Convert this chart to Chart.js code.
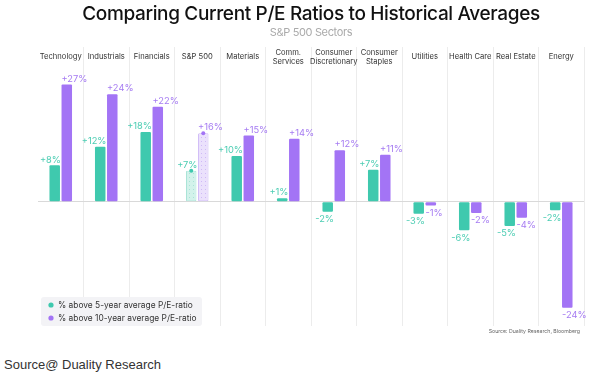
<!DOCTYPE html>
<html>
<head>
<meta charset="utf-8">
<script src="https://cdn.jsdelivr.net/npm/chart.js@4.4.1/dist/chart.umd.min.js"></script>
<style>
  html, body { margin: 0; padding: 0; background: #fff; }
  #wrap { position: relative; width: 594px; height: 345px; }
  #src { font-family: "Liberation Sans", Arial, sans-serif; font-size: 13px; color: #333; margin: 12px 0 0 4px; }
</style>
</head>
<body>
<div id="wrap"><canvas id="c" width="594" height="345"></canvas></div>
<div id="src">Source@ Duality Research</div>
<script>
const categories = ["Technology", "Industrials", "Financials", "S&P 500", "Materials", ["Comm.", "Services"], ["Consumer", "Discretionary"], ["Consumer", "Staples"], "Utilities", "Health Care", "Real Estate", "Energy"];
// bar heights (percent)
const fiveYear = [8.2, 12.4, 15.7, 7.0, 10.3, 0.8, -2.2, 7.2, -2.7, -6.4, -5.4, -1.9];
const tenYear = [26.4, 24.2, 21.4, 15.4, 14.9, 14.2, 11.6, 10.6, -0.8, -2.5, -3.6, -23.8];
// printed labels
const fiveYearLabels = ["+8%", "+12%", "+18%", "+7%", "+10%", "+1%", "-2%", "+7%", "-3%", "-6%", "-5%", "-2%"];
const tenYearLabels = ["+27%", "+24%", "+22%", "+16%", "+15%", "+14%", "+12%", "+11%", "-1%", "-2%", "-4%", "-24%"];
const seriesNames = ["% above 5-year average P/E-ratio", "% above 10-year average P/E-ratio"];
const highlightIndex = 3;

const GREEN = "#3fc9ae";
const PURPLE = "#a374f5";
const GREEN_LBL = "#4ccdb3";
const PURPLE_LBL = "#a67cf2";
const FONT = "Inter, 'Noto Sans', sans-serif";

function makePattern(bg, dot) {
  const p = document.createElement("canvas");
  p.width = 4; p.height = 4;
  const g = p.getContext("2d");
  g.fillStyle = bg; g.fillRect(0, 0, 4, 4);
  g.fillStyle = dot; g.fillRect(1, 1, 1, 1);
  return document.getElementById("c").getContext("2d").createPattern(p, "repeat");
}
const greenPat = makePattern("#d3f2eb", "#a9e4d7");
const purplePat = makePattern("#ebe1fc", "#cfbaf7");

function colorsFor(main, pat) {
  return categories.map((_, i) => i === highlightIndex ? pat : main);
}
function bordersFor(main, light) {
  return categories.map((_, i) => i === highlightIndex ? light : main);
}

const spacing = {
  id: "spacing",
  beforeDraw(chart) { chart.ctx.letterSpacing = "-0.35px"; },
  beforeDatasetsDraw(chart) { chart.ctx.letterSpacing = "0px"; }
};

const overlay = {
  id: "overlay",
  afterDatasetsDraw(chart) {
    const ctx = chart.ctx;
    const x = chart.scales.x;
    ctx.save();
    ctx.letterSpacing = "0px";
    // category labels
    ctx.fillStyle = "#333";
    ctx.font = "7.6px " + FONT;
    ctx.textAlign = "center";
    ctx.textBaseline = "middle";
    categories.forEach((c, i) => {
      const cx = x.getPixelForValue(i);
      const lines = Array.isArray(c) ? c : [c];
      const lh = 9;
      const y0 = 57 - (lines.length - 1) * lh / 2;
      lines.forEach((l, j) => ctx.fillText(l, cx, y0 + j * lh));
    });
    // data labels
    ctx.font = "9.3px " + FONT;
    const labelSets = [fiveYearLabels, tenYearLabels];
    const labelCols = [GREEN_LBL, PURPLE_LBL];
    chart.data.datasets.forEach((ds, di) => {
      const meta = chart.getDatasetMeta(di);
      meta.data.forEach((bar, i) => {
        const v = ds.data[i];
        ctx.fillStyle = labelCols[di];
        const half = bar.width / 2;
        ctx.textAlign = di === 0 ? "right" : "left";
        const lx = di === 0 ? bar.x + half + 1 : bar.x - half;
        if (v >= 0) {
          ctx.textBaseline = "bottom";
          ctx.fillText(labelSets[di][i], lx, bar.y - 1);
        } else {
          ctx.textBaseline = "top";
          ctx.fillText(labelSets[di][i], lx, bar.y + 3);
        }
        if (i === highlightIndex) {
          ctx.beginPath();
          ctx.fillStyle = di === 0 ? GREEN : PURPLE;
          ctx.arc(bar.x, bar.y, 2, 0, Math.PI * 2);
          ctx.fill();
        }
      });
    });
    // legend box
    const lx = 41, ly = 297, lw = 161, lh = 29;
    ctx.fillStyle = "#f3f3f6";
    ctx.beginPath();
    ctx.roundRect(lx, ly, lw, lh, 3);
    ctx.fill();
    ctx.font = "8.4px " + FONT;
    ctx.textAlign = "left";
    ctx.textBaseline = "middle";
    [GREEN, PURPLE].forEach((col, i) => {
      const yy = ly + 8 + i * 13;
      ctx.fillStyle = col;
      ctx.beginPath();
      ctx.arc(lx + 10, yy, 2.6, 0, Math.PI * 2);
      ctx.fill();
      ctx.fillStyle = "#333";
      ctx.fillText(chart.data.datasets[i].label, lx + 17, yy);
    });
    // in-chart source
    ctx.font = "5.2px " + FONT;
    ctx.fillStyle = "#666";
    ctx.textAlign = "right";
    ctx.fillText("Source: Duality Research, Bloomberg", 580, 331);
    ctx.restore();
  }
};

new Chart(document.getElementById("c"), {
  type: "bar",
  data: {
    labels: categories,
    datasets: [
      { label: seriesNames[0], data: fiveYear, backgroundColor: colorsFor(GREEN, greenPat), borderColor: bordersFor(GREEN, "#a9e4d7"), borderWidth: categories.map((_, i) => i === highlightIndex ? 1 : 0), borderRadius: 1, borderSkipped: false },
      { label: seriesNames[1], data: tenYear, backgroundColor: colorsFor(PURPLE, purplePat), borderColor: bordersFor(PURPLE, "#cfbaf7"), borderWidth: categories.map((_, i) => i === highlightIndex ? 1 : 0), borderRadius: 1, borderSkipped: false }
    ]
  },
  options: {
    responsive: false,
    animation: false,
    layout: { padding: { left: 38, right: 10, top: 0, bottom: 19 } },
    categoryPercentage: 0.53,
    barPercentage: 0.87,
    scales: {
      x: {
        display: true,
        ticks: { display: false },
        border: { display: false },
        grid: {
          offset: true,
          drawTicks: false,
          lineWidth: 1,
          color: (ctx) => (ctx.index === 0 || ctx.index === categories.length) ? "rgba(0,0,0,0)" : "#ececec"
        }
      },
      y: {
        min: -27.9,
        max: 34.8,
        ticks: { display: false },
        afterBuildTicks: (axis) => { axis.ticks = [{ value: 0 }]; },
        border: { display: false },
        grid: { drawTicks: false, color: "#d9d9d9", lineWidth: 1 }
      }
    },
    plugins: {
      legend: { display: false },
      tooltip: { enabled: false },
      title: {
        display: true,
        fullSize: false,
        text: "Comparing Current P/E Ratios to Historical Averages",
        color: "#111",
        font: { family: FONT, size: 19, weight: "500" },
        padding: { top: 3, bottom: 0 }
      },
      subtitle: {
        display: true,
        fullSize: false,
        text: "S&P 500 Sectors",
        color: "#aaa",
        font: { family: FONT, size: 11, weight: "400" },
        padding: { top: 0, bottom: 8 }
      }
    }
  },
  plugins: [spacing, overlay]
});
</script>
</body>
</html>
